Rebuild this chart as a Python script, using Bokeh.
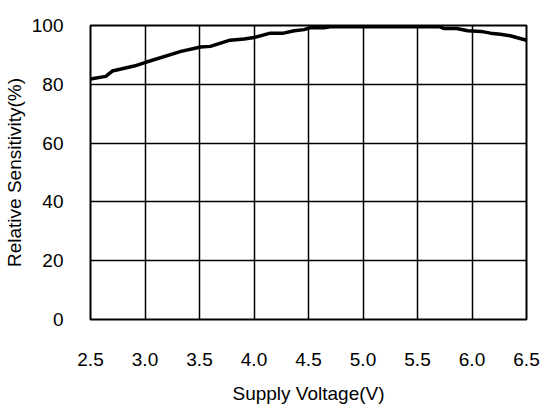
from bokeh.plotting import figure
from bokeh.models import FixedTicker, NumeralTickFormatter, Range1d
from bokeh.embed import file_html
from bokeh.resources import INLINE

voltage = [2.5, 2.64, 2.70, 2.90, 3.0, 3.33, 3.51, 3.60, 3.78, 3.91, 4.0, 4.15, 4.27, 4.37,
           4.46, 4.51, 4.64, 4.70, 5.0, 5.5, 5.70, 5.74, 5.86, 5.96, 6.08, 6.17, 6.26, 6.35, 6.5]
sensitivity = [81.8, 82.7, 84.5, 86.2, 87.4, 91.2, 92.7, 92.9, 95.0, 95.4, 95.9, 97.4, 97.4, 98.2,
               98.6, 99.2, 99.2, 99.6, 99.6, 99.6, 99.6, 99.0, 99.0, 98.2, 98.0, 97.4, 97.0, 96.5, 95.0]
x_ticks = [2.5, 3.0, 3.5, 4.0, 4.5, 5.0, 5.5, 6.0, 6.5]
y_ticks = [0, 20, 40, 60, 80, 100]

FONT = "Liberation Sans"

p = figure(width=544, height=414, output_backend="svg", toolbar_location=None,
           x_range=Range1d(2.5, 6.5), y_range=Range1d(0, 100),
           min_border_left=90, min_border_right=18, min_border_top=25, min_border_bottom=95)

p.line(voltage, sensitivity, line_color="black", line_width=3.5)

p.outline_line_color = "black"
p.outline_line_width = 2
p.background_fill_color = "white"
p.border_fill_color = "white"

for ax in (p.xaxis[0], p.yaxis[0]):
    ax.axis_line_color = None
    ax.major_tick_line_color = None
    ax.minor_tick_line_color = None
    ax.major_label_text_font = FONT
    ax.major_label_text_font_size = "19px"
    ax.major_label_text_color = "black"
    ax.axis_label_text_font = FONT
    ax.axis_label_text_font_size = "19px"
    ax.axis_label_text_font_style = "normal"
    ax.axis_label_text_color = "black"

p.xaxis.ticker = FixedTicker(ticks=x_ticks)
p.xaxis.formatter = NumeralTickFormatter(format="0.0")
p.yaxis.ticker = FixedTicker(ticks=y_ticks)
p.xaxis.axis_label = "Supply Voltage(V)"
p.yaxis.axis_label = "Relative Sensitivity(%)"
p.xaxis.major_label_standoff = 27
p.xaxis.axis_label_standoff = 14
p.yaxis.major_label_standoff = 21
p.yaxis.axis_label_standoff = 4

for g in (p.xgrid[0], p.ygrid[0]):
    g.grid_line_color = "black"
    g.grid_line_width = 1.5
    g.grid_line_alpha = 1.0
p.xgrid.ticker = FixedTicker(ticks=x_ticks)
p.ygrid.ticker = FixedTicker(ticks=y_ticks)

open("out.html", "w").write(file_html(p, INLINE))
